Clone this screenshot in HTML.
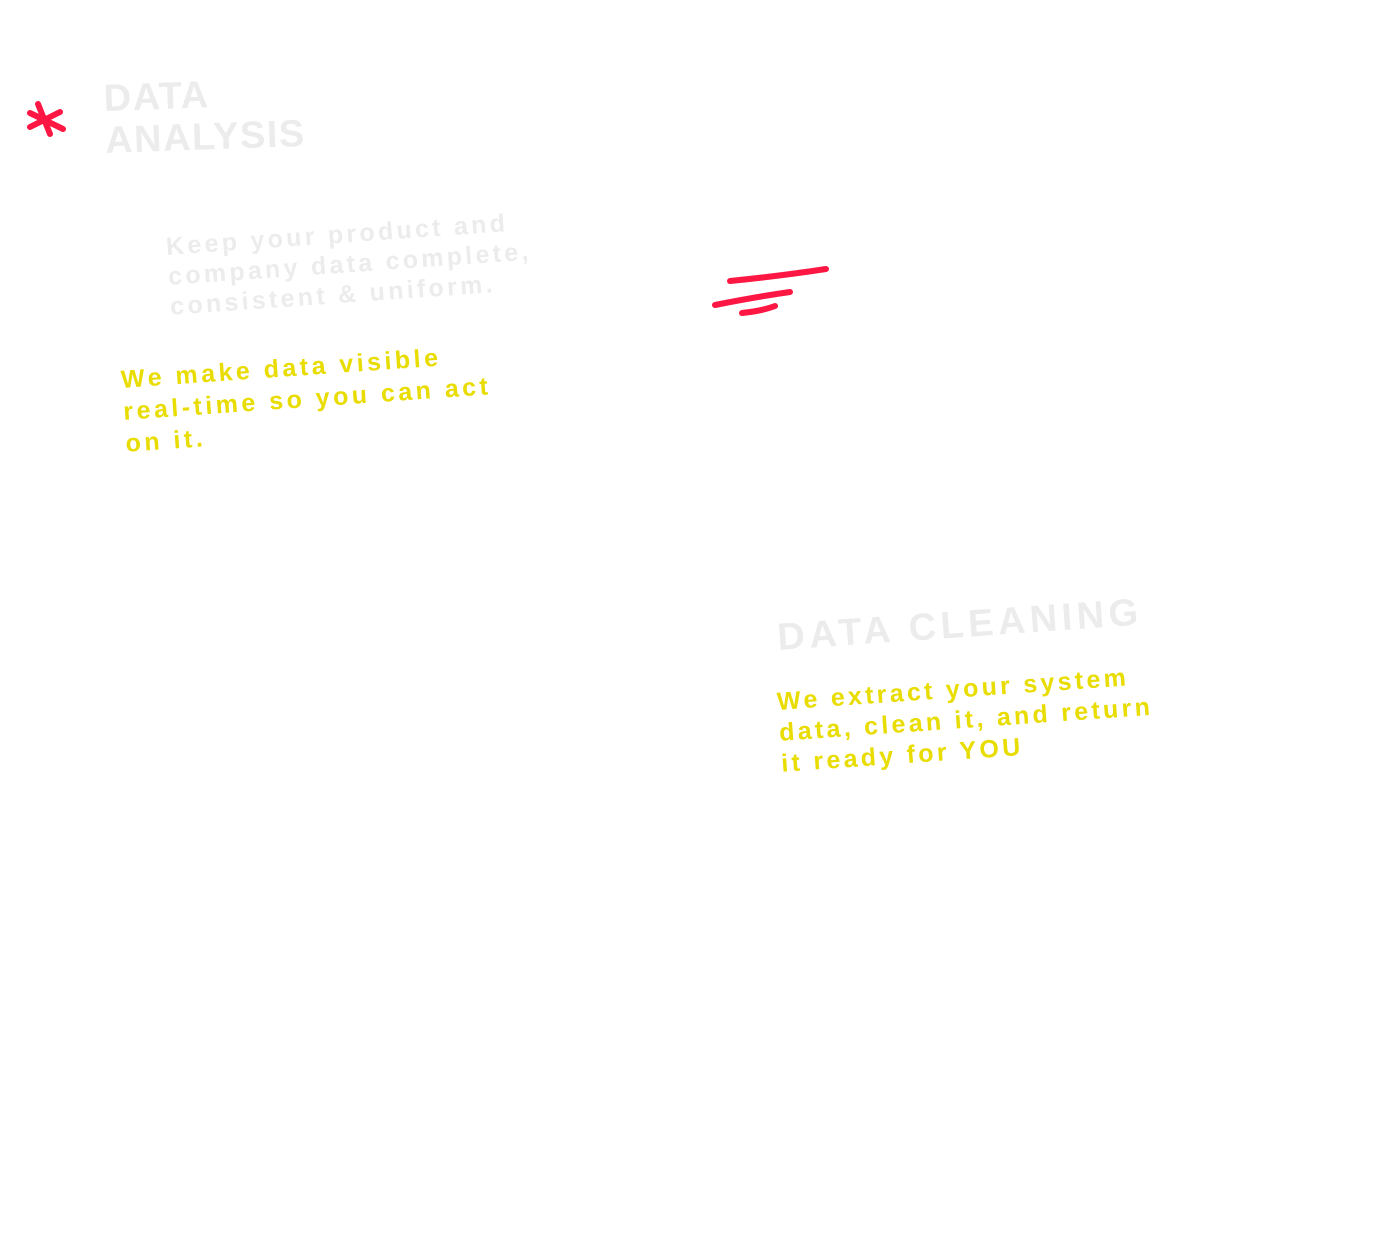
<!DOCTYPE html>
<html><head><meta charset="utf-8"><style>
html,body{margin:0;padding:0;background:#fff;width:1379px;height:1239px;overflow:hidden;position:relative;font-family:"Liberation Sans",sans-serif}
.t{position:absolute;white-space:nowrap;transform-origin:0 0}
.g{color:#ececec}
.y{color:#e8dc00}
</style></head><body>
<div class="t g" style="left:103px;top:78px;font-size:38px;line-height:42px;letter-spacing:1.5px;font-weight:bold;transform:rotate(-2deg)">DATA<br>ANALYSIS</div>
<div class="t g" style="left:165px;top:232px;font-size:25px;line-height:30px;letter-spacing:3.3px;font-weight:bold;transform:rotate(-4deg)">Keep your product and<br>company data complete,<br>consistent &amp; uniform.</div>
<div class="t y" style="left:120px;top:364px;font-size:25px;line-height:32px;letter-spacing:3.5px;font-weight:bold;transform:rotate(-4deg)">We make data visible<br>real-time so you can act<br>on it.</div>
<div class="t g" style="left:776px;top:617px;font-size:38px;letter-spacing:4.5px;font-weight:bold;transform:rotate(-4deg)">DATA CLEANING</div>
<div class="t y" style="left:776px;top:687px;font-size:25px;line-height:31px;letter-spacing:3.3px;font-weight:bold;transform:rotate(-4deg)">We extract your system<br>data, clean it, and return<br>it ready for YOU</div>
<svg width="1379" height="1239" style="position:absolute;left:0;top:0">
<g stroke="#ff1744" stroke-width="6" stroke-linecap="round" fill="none">
<path d="M38 104 L50 134"/><path d="M30 127 L60 112"/><path d="M30 113 L63 129"/>
<path d="M730 281 Q780 276 826 269"/><path d="M715 305 Q755 297 790 292"/><path d="M742 313 Q762 311 775 306"/>
</g></svg>
</body></html>
